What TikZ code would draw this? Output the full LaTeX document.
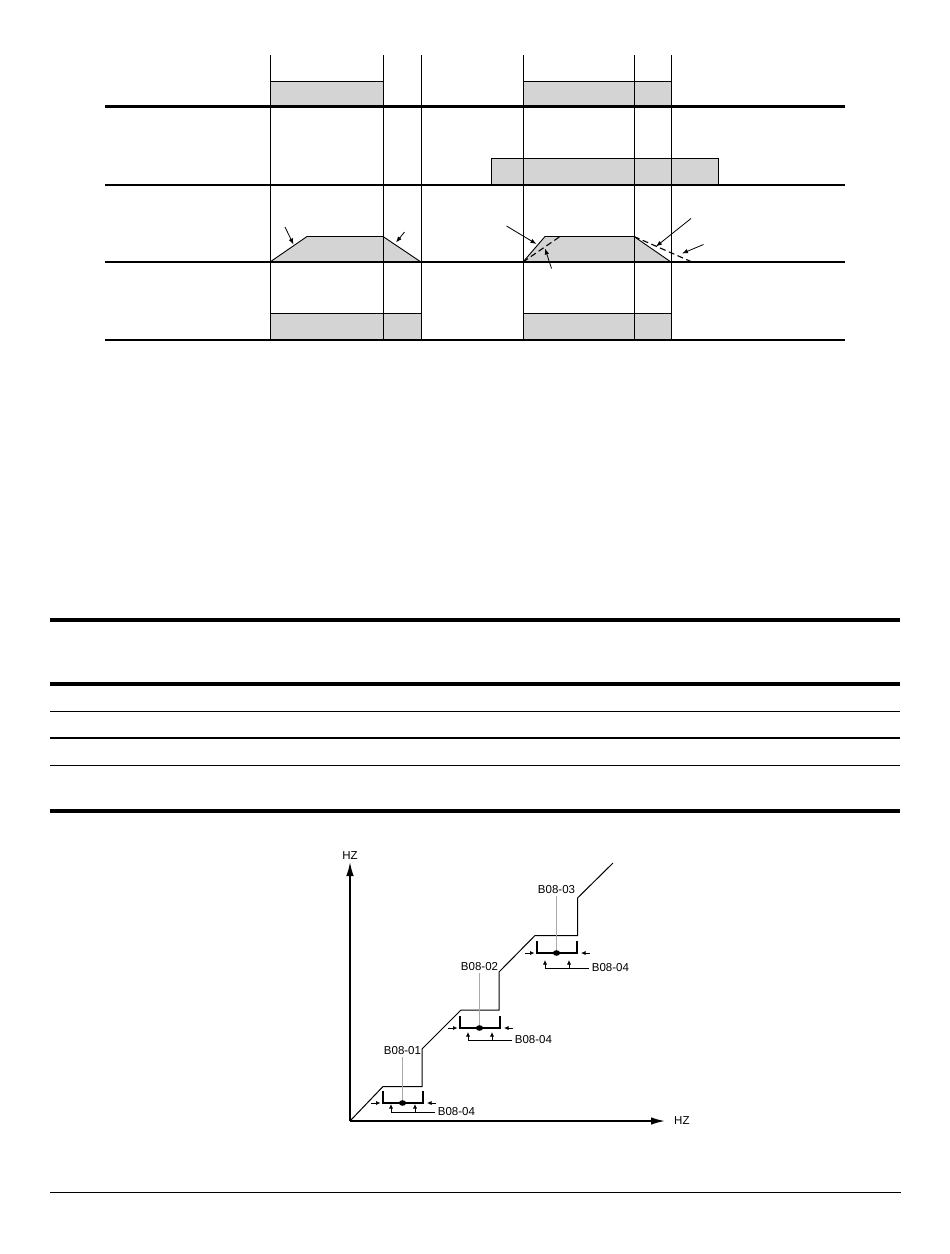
\documentclass[tikz,border=0pt]{standalone}
\usepackage{fontspec}
\setmainfont{Liberation Sans}
\usepackage{tikz}
\usetikzlibrary{arrows.meta}
\definecolor{boxgray}{RGB}{212,212,212}
\definecolor{leadgray}{RGB}{170,170,170}

\begin{document}
\begin{tikzpicture}[x=1pt,y=-1pt,
		rowline/.style={line width=2.2pt},
		tline/.style={line width=0.9pt},
		gbox/.style={fill=boxgray,draw=black,line width=0.9pt},
		ptr/.style={line width=0.8pt,-{Latex[length=6pt,width=4.5pt]}},
		axis/.style={line width=1.6pt,-{Latex[length=14pt,width=7.5pt]}},
		stair/.style={line width=1pt},
		bracket/.style={line width=1.8pt},
		tiny/.style={line width=0.7pt,-{Latex[length=4.5pt,width=4pt]}},
		leader/.style={draw=leadgray,line width=0.9pt},
		lbl/.style={font=\fontsize{11.5}{13}\selectfont,inner sep=2pt}]
	\useasboundingbox (0,0) rectangle (950,1254);
	% timing chart
	\draw[gbox] (270,81) rectangle (383,106.5);
	\draw[gbox] (523,81) rectangle (671,106.5);
	\draw[gbox] (491.5,158.5) rectangle (718,185);
	\draw[gbox] (270,262) -- (307,236.5) -- (383,236.5) -- (421,262);
	\draw[gbox] (523,262) -- (545,236.5) -- (634,236.5) -- (671,262);
	\draw[gbox] (270,313.5) rectangle (421,340);
	\draw[gbox] (523,313.5) rectangle (671,340);
	\draw[line width=1.1pt,dash pattern=on 6pt off 3.5pt] (523,262) -- (560,236.5);
	\draw[line width=1.1pt,dash pattern=on 6pt off 3.5pt] (634,236.5) -- (692,262);
	\foreach \x in {270,383,421,523,634,671}
		\draw[tline] (\x,55) -- (\x,340);
	\foreach \y in {106.5,185,262,340}
		\draw[rowline] (105,\y) -- (845,\y);
	\draw[ptr] (285,227) -- (293.5,244.5);
	\draw[ptr] (404.5,232) -- (396,242.5);
	\draw[ptr] (506.5,226) -- (536.5,244);
	\draw[ptr] (551.5,268.5) -- (545,248.5);
	\draw[ptr] (691,218.5) -- (656,246.5);
	\draw[ptr] (703.5,244.5) -- (682,253.5);
	% table rules
	\draw[line width=4pt] (50,620.3) -- (900,620.3);
	\draw[line width=4pt] (50,684.3) -- (900,684.3);
	\draw[line width=1.2pt] (50,711.3) -- (900,711.3);
	\draw[line width=1.2pt] (50,738) -- (900,738);
	\draw[line width=1.6pt] (50,765.3) -- (900,765.3);
	\draw[line width=3.6pt] (50,811) -- (900,811);
	\draw[line width=1.5pt] (50,1192.3) -- (901,1192.3);
	% frequency graph
	\coordinate (o) at (350,1121);
	\draw[axis] (o) -- (350,862) coordinate (ytip);
	\node[lbl,anchor=south] (yhz) at (ytip) {HZ};
	\draw[axis] (o) -- (665,1121) coordinate (xtip);
	\node[lbl,anchor=west] (xhz) at ([xshift=7pt]xtip) {HZ};
	\draw[stair] (o) -- (383,1086.5) -- (422,1086.5) -- (422,1049) -- (461,1010) -- (499,1010)
		-- (499,972) -- (535,935.5) -- (577.5,935.5) -- (577.5,898) -- (613,863);
	\foreach \xl/\yb/\ly/\bo/\n in {383/1103/1051/9/01, 460/1028/967/12/02, 537/953/890/15/03}{
		\coordinate (dot\n) at (\xl+19.5,\yb);
		\node[lbl] (set\n) at (\xl+19.5,\ly) {B08-\n};
		\draw[leader] (set\n) -- (dot\n);
		\draw[bracket] (\xl,\yb-12) -- (\xl,\yb) -- (\xl+40,\yb) -- (\xl+40,\yb-12);
		\fill (dot\n) ellipse (3.6 and 2.8);
		\draw[tiny] (\xl-12,\yb) -- (\xl-2.5,\yb);
		\draw[tiny] (\xl+53,\yb) -- (\xl+44,\yb);
		\draw[tiny] (\xl+8,\yb+\bo) -- (\xl+8,\yb+\bo-8);
		\draw[tiny] (\xl+32,\yb+\bo) -- (\xl+32,\yb+\bo-8);
		\draw[line width=0.7pt] (\xl+8,\yb+\bo) -- (\xl+52,\yb+\bo)
			node[lbl,anchor=west,inner sep=2.5pt] (band\n) {B08-04};
	}
\end{tikzpicture}
\end{document}
